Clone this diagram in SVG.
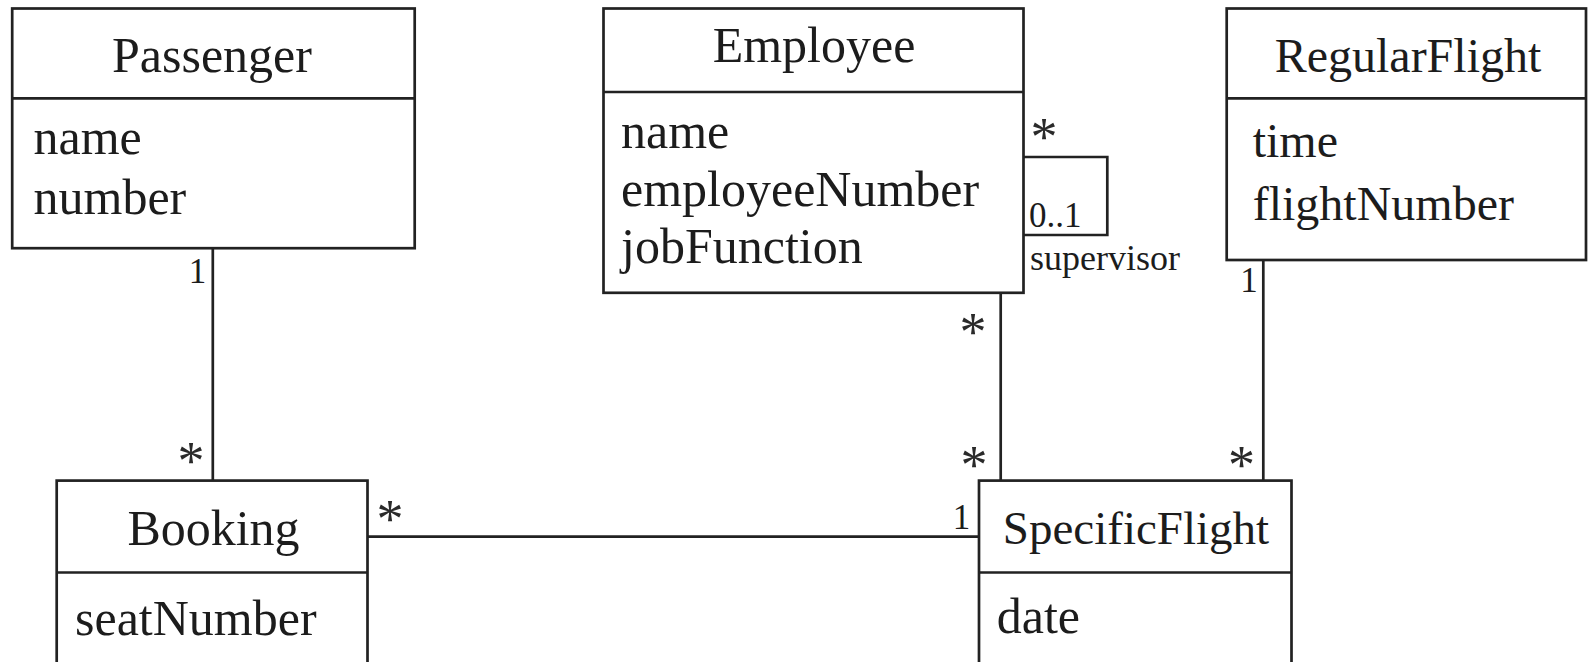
<svg xmlns="http://www.w3.org/2000/svg" width="1589" height="662" viewBox="0 0 1589 662">
<style>
.box{fill:#fff;stroke:#222;stroke-width:2.7}
.ln{fill:none;stroke:#222;stroke-width:2.7}
text{font-family:"Liberation Serif","Times New Roman",serif;fill:#1c1c1c}
.t{font-size:50px;text-anchor:middle}
.a{font-size:50px}
.m{font-size:35px}
.ast{font-size:54px;text-anchor:middle;fill:#2a2a2a}
</style>
<rect width="1589" height="662" fill="#fff"/>
<g id="connectors">
<line class="ln" x1="212.8" y1="248" x2="212.8" y2="480.5"/>
<line class="ln" x1="1000.7" y1="293" x2="1000.7" y2="480.5"/>
<line class="ln" x1="1263.3" y1="260" x2="1263.3" y2="480.5"/>
<line class="ln" x1="367.5" y1="536.6" x2="979" y2="536.6"/>
<path class="ln" d="M1023.5,157 H1107.3 V235 H1023.5"/>
<text class="m" x="197.5" y="283" text-anchor="middle">1</text>
<text class="ast" x="191" y="479">*</text>
<text class="ast" x="390" y="537">*</text>
<text class="m" x="961.5" y="529" text-anchor="middle">1</text>
<text class="ast" x="973" y="350">*</text>
<text class="ast" x="974" y="482.5">*</text>
<text class="m" x="1249" y="291.7" text-anchor="middle">1</text>
<text class="ast" x="1241.5" y="482.5">*</text>
<text class="ast" x="1044" y="155">*</text>
<text class="m" x="1029" y="227">0..1</text>
<text class="m" x="1030" y="270" style="font-size:36px">supervisor</text>
</g>
<g id="passenger">
<rect class="box" x="12.2" y="8.5" width="402.5" height="239.7"/>
<line class="ln" x1="12.2" y1="98.3" x2="414.7" y2="98.3"/>
<text class="t" x="212" y="72">Passenger</text>
<text class="a" x="33.5" y="154">name</text>
<text class="a" x="33.5" y="214">number</text>
</g>
<g id="employee">
<rect class="box" x="603.5" y="8.5" width="420" height="284.3"/>
<line class="ln" x1="603.5" y1="92" x2="1023.5" y2="92"/>
<text class="t" x="814" y="62">Employee</text>
<text class="a" x="621" y="148">name</text>
<text class="a" x="621" y="206">employeeNumber</text>
<text class="a" x="621" y="263">jobFunction</text>
</g>
<g id="regularflight">
<rect class="box" x="1226.7" y="8.5" width="359.3" height="251.5"/>
<line class="ln" x1="1226.7" y1="98.3" x2="1586" y2="98.3"/>
<text class="t" x="1408" y="72" style="font-size:48px">RegularFlight</text>
<text class="a" x="1252.7" y="157" style="font-size:48px">time</text>
<text class="a" x="1252.7" y="220" style="font-size:48px">flightNumber</text>
</g>
<g id="booking">
<rect class="box" x="56.7" y="480.6" width="310.8" height="200"/>
<line class="ln" x1="56.7" y1="572.5" x2="367.5" y2="572.5"/>
<text class="t" x="213.5" y="545">Booking</text>
<text class="a" x="75" y="635">seatNumber</text>
</g>
<g id="specificflight">
<rect class="box" x="979" y="480.6" width="312.5" height="200"/>
<line class="ln" x1="979" y1="572.5" x2="1291.5" y2="572.5"/>
<text class="t" x="1136" y="543.5" style="font-size:47px">SpecificFlight</text>
<text class="a" x="996.7" y="633">date</text>
</g>
</svg>
